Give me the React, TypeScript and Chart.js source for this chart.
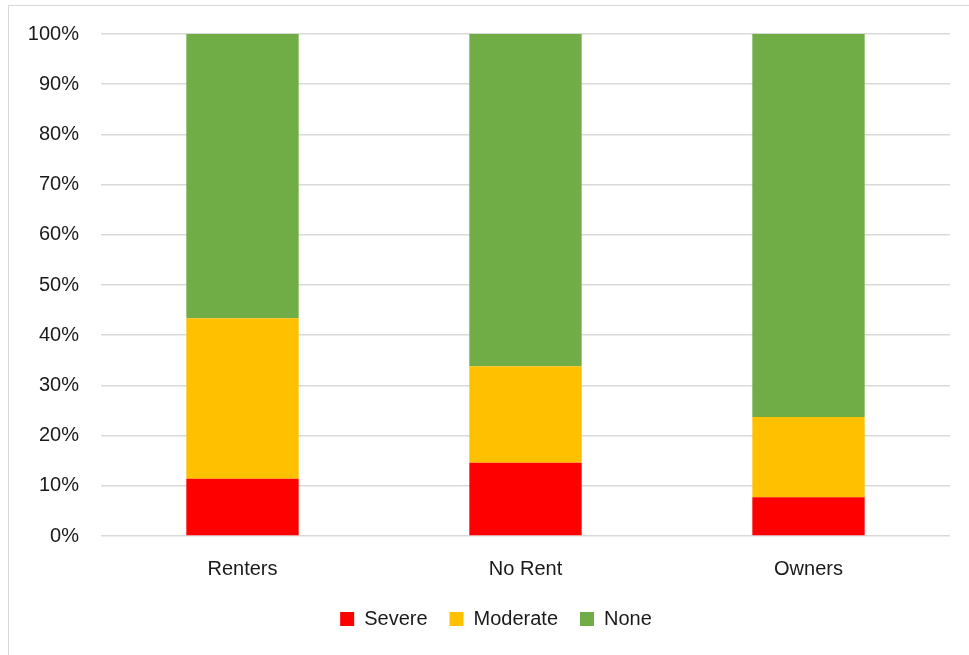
import React, { useEffect, useRef } from "react";
import { Chart, registerables } from "chart.js";

Chart.register(...registerables);

const categories = ["Renters", "No Rent", "Owners"];
const severe = [11.4, 14.6, 7.7];
const moderate = [32.0, 19.2, 16.0];
const none = [56.6, 66.2, 76.3];

const FONT = "'Liberation Sans', Arial, sans-serif";

// Nudge the legend row to the right so it sits under the plot a little off-centre.
const legendShift = {
  id: "legendShift",
  afterLayout(chart: any) {
    const lg = chart.legend;
    if (lg) {
      lg.left += 21;
      lg.right += 21;
    }
  },
};

export default function App() {
  const ref = useRef<HTMLCanvasElement | null>(null);

  useEffect(() => {
    document.body.style.margin = "0";
    document.body.style.overflow = "hidden";
    const canvas = ref.current;
    if (!canvas) return;
    const chart = new Chart(canvas, {
      type: "bar",
      data: {
        labels: categories,
        datasets: [
          { label: "Severe", data: severe, backgroundColor: "#FF0000" },
          { label: "Moderate", data: moderate, backgroundColor: "#FFC000" },
          { label: "None", data: none, backgroundColor: "#70AD47" },
        ],
      },
      plugins: [legendShift],
      options: {
        animation: false,
        responsive: false,
        maintainAspectRatio: false,
        layout: { padding: { left: 0, right: 19, top: 32, bottom: 16 } },
        datasets: {
          bar: { barPercentage: 0.397, categoryPercentage: 1 },
        },
        scales: {
          x: {
            stacked: true,
            grid: { display: false, drawTicks: false },
            border: { display: false },
            afterFit: (scale: any) => {
              scale.height -= 15;
            },
            ticks: {
              color: "#1a1a1a",
              font: { family: FONT, size: 20 },
              padding: 21,
            },
          },
          y: {
            stacked: true,
            min: 0,
            max: 100,
            afterFit: (scale: any) => {
              scale.width = 101;
            },
            grid: { color: "#d9d9d9", lineWidth: 1.5, drawTicks: false },
            border: { display: false },
            ticks: {
              stepSize: 10,
              color: "#1a1a1a",
              font: { family: FONT, size: 20 },
              padding: 22,
              callback: (v: any) => `${v}%`,
            },
          },
        },
        plugins: {
          legend: {
            position: "bottom",
            labels: {
              color: "#1a1a1a",
              font: { family: FONT, size: 20 },
              boxWidth: 14,
              boxHeight: 14,
              padding: 22,
            },
          },
          tooltip: { enabled: false },
        },
      },
    });
    return () => chart.destroy();
  }, []);

  return (
    <div style={{ position: "relative", width: 969, height: 655, overflow: "hidden", background: "#fff" }}>
      <div
        style={{
          position: "absolute",
          left: 8,
          top: 5,
          width: 980,
          height: 700,
          border: "1px solid #d9d9d9",
        }}
      />
      <canvas ref={ref} width={969} height={655} style={{ position: "absolute", left: 0, top: 0 }} />
    </div>
  );
}
